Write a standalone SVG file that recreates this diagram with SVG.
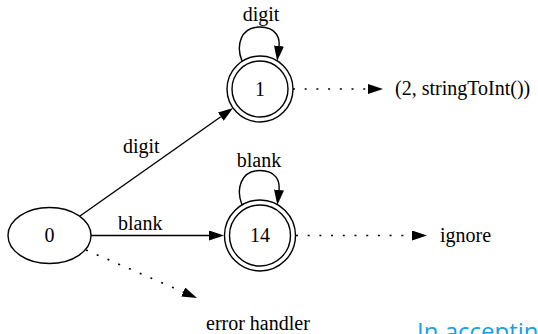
<svg xmlns="http://www.w3.org/2000/svg" width="538" height="334" viewBox="0 0 538 334">
  <style>
    .node { fill: none; stroke: #000; stroke-width: 1.4; }
    .edge { fill: none; stroke: #000; stroke-width: 1.4; }
    .dotted { stroke-dasharray: 2 9.7; stroke-width: 1.6; }
    text { font-family: "Liberation Serif", "Times New Roman", serif; font-size: 20px; fill: #000; }
    .mid { text-anchor: middle; }
    .note { font-family: "Open Sans", "Liberation Sans", sans-serif; font-size: 24px; fill: #1a9fe0; }
  </style>
  <defs>
    <marker id="arrow" viewBox="0 0 15 10" refX="0" refY="5" markerWidth="15" markerHeight="10" markerUnits="userSpaceOnUse" orient="auto">
      <path d="M0,0 L15,5 L0,10 z" fill="#000"/>
    </marker>
  </defs>

  <!-- states -->
  <g id="state-0">
    <ellipse class="node" cx="49.5" cy="235.5" rx="41.5" ry="28"/>
    <text class="mid" x="49.5" y="242">0</text>
  </g>
  <g id="state-1">
    <circle class="node" cx="260" cy="89" r="33"/>
    <circle class="node" cx="260" cy="89" r="28"/>
    <text class="mid" x="260" y="96">1</text>
  </g>
  <g id="state-14">
    <circle class="node" cx="260" cy="235.5" r="35.5"/>
    <circle class="node" cx="260" cy="235.5" r="30.5"/>
    <text class="mid" x="260" y="242">14</text>
  </g>

  <!-- actions -->
  <g id="action-int">
    <text x="395" y="95">(2, stringToInt())</text>
  </g>
  <g id="action-ignore">
    <text x="440" y="242">ignore</text>
  </g>
  <g id="action-error">
    <text x="206" y="330">error handler</text>
  </g>

  <!-- transitions -->
  <g id="connectors">
    <path class="edge" d="M80,216 L220.8,116.7" marker-end="url(#arrow)"/>
    <text x="123" y="153">digit</text>

    <path class="edge" d="M91,235.5 H209" marker-end="url(#arrow)"/>
    <text x="118" y="230">blank</text>

    <path class="edge" d="M242,61 C236,46 240,27 260,27 C276,27 280,38 279,46" marker-end="url(#arrow)"/>
    <text class="mid" x="261" y="21">digit</text>

    <path class="edge" d="M242,205 C236,190 240,170.5 260,170.5 C276,170.5 280,181 279,190" marker-end="url(#arrow)"/>
    <text class="mid" x="259" y="167">blank</text>

    <path class="edge dotted" d="M293,89 H368" marker-end="url(#arrow)"/>
    <path class="edge dotted" d="M296,235.5 H412" marker-end="url(#arrow)"/>
    <path class="edge dotted" d="M86,250 L183.2,292" marker-end="url(#arrow)"/>
  </g>

  <text class="note" x="417" y="340">In acceptin</text>
</svg>
